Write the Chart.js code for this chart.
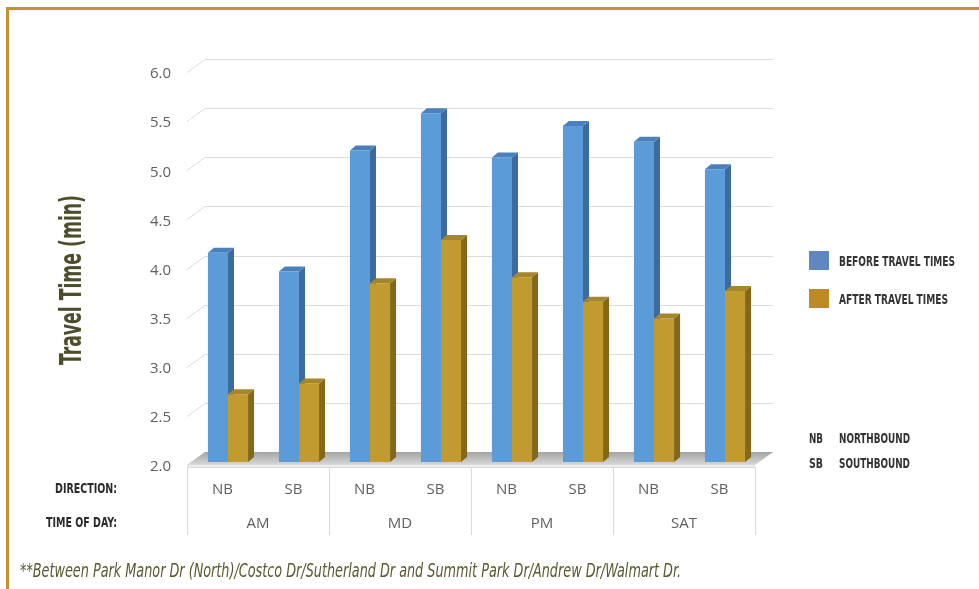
<!DOCTYPE html>
<html>
<head>
<meta charset="utf-8">
<script src="https://cdn.jsdelivr.net/npm/chart.js@4.4.1/dist/chart.umd.min.js"></script>
<style>
  html, body { margin: 0; padding: 0; background: #fff; }
  #wrap { position: relative; width: 979px; height: 589px; overflow: hidden; }
  #frame { position: absolute; left: 6px; top: 7px; width: 1000px; height: 600px;
           border-top: 3px solid #c4922e; border-left: 3px solid #c4922e; }
  canvas { position: absolute; left: 0; top: 0; }
  .t { position: absolute; white-space: nowrap; line-height: 1;
       font-family: "DejaVu Sans Condensed", "DejaVu Sans", sans-serif; }
  .sw { position: absolute; width: 20px; height: 19px; }
</style>
</head>
<body>
<div id="wrap">
  <div id="frame"></div>
  <canvas id="chart" width="979" height="589"></canvas>
</div>
<script>
// data
const periods = ["AM", "MD", "PM", "SAT"];
const directions = ["NB", "SB"];
const categories = periods.flatMap(() => directions);
const beforeTimes = [4.13, 3.94, 5.17, 5.55, 5.10, 5.42, 5.26, 4.98];
const afterTimes = [2.69, 2.80, 3.82, 4.26, 3.88, 3.63, 3.46, 3.74];
const seriesNames = ["BEFORE TRAVEL TIMES", "AFTER TRAVEL TIMES"];
const yTicks = [2.0, 2.5, 3.0, 3.5, 4.0, 4.5, 5.0, 5.5, 6.0];
const dirNames = [["NB", "NORTHBOUND"], ["SB", "SOUTHBOUND"]];
const footnote = "**Between Park Manor Dr (North)/Costco Dr/Sutherland Dr and Summit Park Dr/Andrew Dr/Walmart Dr.";

// look
const frontColors = ["#5b9bd8", "#c19b2f"];
const sideColors = ["#3c6c9f", "#846819"];
const topColors = ["#4c80ba", "#a5862a"];
const legendColors = ["#5e88bf", "#bd8a24"];
const tickFont = { family: "Open Sans", size: 15 };
const tickColor = "#5f5f5f";
const wallDX = 18, wallDY = 13;   // depth of the back wall
const barDX = 6, barDY = 5;       // depth of each bar
const barShiftX = 5.5, barShiftY = -3;
const target = { left: 187, right: 755, top: 72, bottom: 465 };

function drawFaces(chart, i) {
  const ctx = chart.ctx;
  const floor = chart.scales.y.getPixelForValue(yTicks[0]);
  chart.getDatasetMeta(i).data.forEach(bar => {
    const { x, y, width } = bar.getProps(["x", "y", "width"], true);
    const l = x - width / 2, r = x + width / 2;
    ctx.fillStyle = sideColors[i];
    ctx.beginPath();
    ctx.moveTo(r, y); ctx.lineTo(r + barDX, y - barDY);
    ctx.lineTo(r + barDX, floor - barDY); ctx.lineTo(r, floor);
    ctx.closePath(); ctx.fill();
    ctx.fillStyle = topColors[i];
    ctx.beginPath();
    ctx.moveTo(l, y); ctx.lineTo(l + barDX, y - barDY);
    ctx.lineTo(r + barDX, y - barDY); ctx.lineTo(r, y);
    ctx.closePath(); ctx.fill();
  });
}

const depthPlugin = {
  id: "depth",
  beforeDatasetsDraw(chart) {
    const { ctx, chartArea: a, scales: { y } } = chart;
    ctx.save();
    // back wall gridlines
    ctx.strokeStyle = "#dcdcdc";
    ctx.lineWidth = 1;
    y.ticks.forEach(t => {
      const py = Math.round(y.getPixelForValue(t.value)) + 0.5;
      ctx.beginPath();
      ctx.moveTo(a.left, py);
      ctx.lineTo(a.left + wallDX, py - wallDY);
      ctx.lineTo(a.right + wallDX, py - wallDY);
      ctx.stroke();
    });
    // floor
    const fy = y.getPixelForValue(yTicks[0]);
    const g = ctx.createLinearGradient(0, fy - wallDY, 0, fy);
    g.addColorStop(0, "#a4a4a4");
    g.addColorStop(1, "#d8d8d8");
    ctx.fillStyle = g;
    ctx.beginPath();
    ctx.moveTo(a.left, fy);
    ctx.lineTo(a.left + wallDX, fy - wallDY);
    ctx.lineTo(a.right + wallDX, fy - wallDY);
    ctx.lineTo(a.right, fy);
    ctx.closePath();
    ctx.fill();
    ctx.fillStyle = "#ececec";
    ctx.fillRect(a.left, fy, a.right - a.left, 2);
    ctx.restore();

    ctx.save();
    ctx.translate(barShiftX, barShiftY);
    drawFaces(chart, 0);
  },
  afterDatasetsDraw(chart) {
    drawFaces(chart, 1);
    chart.ctx.restore();
  },
  afterDraw(chart) {
    const { ctx, chartArea: a, scales: { x2 } } = chart;
    ctx.save();
    ctx.strokeStyle = "#d9d9d9";
    ctx.lineWidth = 1;
    const step = (x2.right - x2.left) / periods.length;
    for (let i = 0; i <= periods.length; i++) {
      const px = Math.round(x2.left + i * step) + 0.5;
      ctx.beginPath();
      ctx.moveTo(px, a.bottom + 2);
      ctx.lineTo(px, x2.bottom);
      ctx.stroke();
    }
    ctx.beginPath();
    ctx.moveTo(a.left, a.bottom + 2.5);
    ctx.lineTo(a.right, a.bottom + 2.5);
    ctx.stroke();
    ctx.restore();
  }
};

const chart = new Chart(document.getElementById("chart").getContext("2d"), {
  type: "bar",
  data: {
    labels: categories,
    datasets: [
      { label: seriesNames[0], data: beforeTimes, backgroundColor: frontColors[0] },
      { label: seriesNames[1], data: afterTimes, backgroundColor: frontColors[1] }
    ]
  },
  options: {
    responsive: false,
    animation: false,
    devicePixelRatio: 1,
    layout: { padding: { left: 147, right: 224, top: 72, bottom: 54 } },
    datasets: { bar: { categoryPercentage: 0.565, barPercentage: 1, borderWidth: 0 } },
    plugins: { legend: { display: false }, tooltip: { enabled: false } },
    scales: {
      x: {
        grid: { display: false, drawTicks: false },
        border: { display: false },
        ticks: { font: tickFont, color: tickColor, padding: 16, maxRotation: 0 },
        afterFit: s => { s.height = 33; }
      },
      x2: {
        type: "category",
        labels: periods,
        position: "bottom",
        offset: true,
        grid: { display: false, drawTicks: false },
        border: { display: false },
        ticks: { font: tickFont, color: tickColor, padding: 17, maxRotation: 0 },
        afterFit: s => { s.height = 37; }
      },
      y: {
        min: yTicks[0],
        max: yTicks[yTicks.length - 1],
        grid: { display: false, drawTicks: false },
        border: { display: false },
        afterBuildTicks: s => { s.ticks = yTicks.map(v => ({ value: v })); },
        ticks: { font: tickFont, color: tickColor, padding: 16, labelOffset: 2, callback: v => Number(v).toFixed(1) },
        afterFit: s => { s.width = 40; }
      }
    }
  },
  plugins: [depthPlugin]
});

// nudge padding so the plot area lands where the reference has it
for (let k = 0; k < 2; k++) {
  const a = chart.chartArea;
  const p = chart.options.layout.padding;
  p.left += target.left - a.left;
  p.right += a.right - target.right;
  p.top += target.top - a.top;
  p.bottom += a.bottom - target.bottom;
  chart.update("none");
}

// text around the chart
const wrap = document.getElementById("wrap");
function addText(str, o) {
  const el = document.createElement("div");
  el.className = "t";
  el.textContent = str;
  el.style.fontSize = o.size + "px";
  el.style.fontWeight = o.weight || "bold";
  el.style.fontStyle = o.italic ? "italic" : "normal";
  el.style.color = o.color;
  wrap.appendChild(el);
  const w = el.getBoundingClientRect().width;
  const h = el.getBoundingClientRect().height;
  const s = o.w / w;
  if (o.rotate) {
    el.style.left = (o.x - w / 2) + "px";
    el.style.top = (o.y - h / 2) + "px";
    el.style.transformOrigin = "50% 50%";
    el.style.transform = "rotate(-90deg) scaleX(" + s + ")";
  } else {
    el.style.left = o.x + "px";
    el.style.top = (o.y - h / 2) + "px";
    el.style.transformOrigin = "0 50%";
    el.style.transform = "scaleX(" + s + ")";
  }
}

addText("Travel Time (min)", { x: 71, y: 280, w: 170, size: 30, color: "#4d4c2b", rotate: true });
addText("DIRECTION:", { x: 55, y: 488, w: 62, size: 14, color: "#2b2b2b" });
addText("TIME OF DAY:", { x: 46, y: 522, w: 71, size: 14, color: "#2b2b2b" });

const legendRows = [261, 299];
const legendWidths = [116, 109];
seriesNames.forEach((name, i) => {
  const sw = document.createElement("div");
  sw.className = "sw";
  sw.style.left = "809px";
  sw.style.top = (legendRows[i] - 10) + "px";
  sw.style.background = legendColors[i];
  wrap.appendChild(sw);
  addText(name, { x: 839, y: legendRows[i], w: legendWidths[i], size: 14, color: "#333" });
});

const dirRows = [438, 463];
dirNames.forEach(([abbr, full], i) => {
  addText(abbr, { x: 809, y: dirRows[i], w: 14, size: 14, color: "#333" });
  addText(full, { x: 839, y: dirRows[i], w: 71, size: 14, color: "#333" });
});

addText(footnote, { x: 20, y: 570, w: 661, size: 20, weight: "normal", italic: true, color: "#5a5931" });
</script>
</body>
</html>
